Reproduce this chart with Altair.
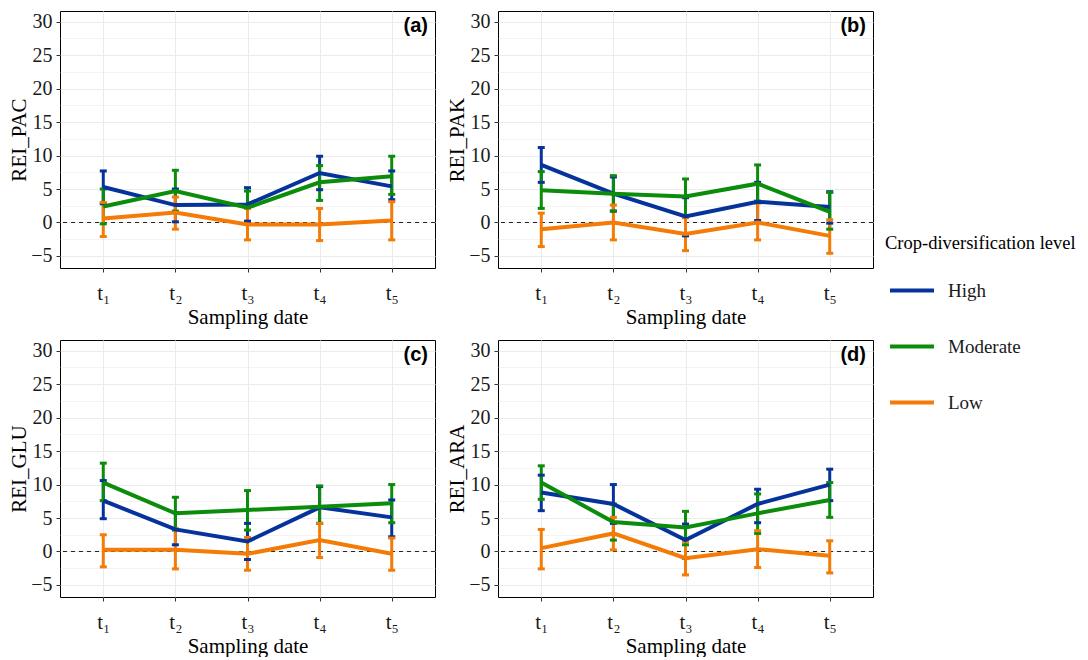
import altair as alt
import pandas as pd

dates = ["t₁", "t₂", "t₃", "t₄", "t₅"]
levels = ["High", "Moderate", "Low"]
colors = ["#06339b", "#0b8c0b", "#f37b06"]

# (a) REI_PAC
pac_high_mean = [5.3, 2.6, 2.7, 7.4, 5.4]
pac_high_lo = [2.8, 0.1, 0.2, 4.9, 3.4]
pac_high_up = [7.7, 5.0, 5.2, 9.9, 7.7]
pac_mod_mean = [2.4, 4.7, 2.2, 6.0, 6.9]
pac_mod_lo = [-0.2, 1.7, -0.3, 3.3, 4.2]
pac_mod_up = [5.0, 7.8, 4.7, 8.5, 9.9]
pac_low_mean = [0.6, 1.5, -0.3, -0.3, 0.3]
pac_low_lo = [-2.1, -1.0, -2.6, -2.7, -2.6]
pac_low_up = [3.0, 3.8, 2.1, 2.1, 3.1]

# (b) REI_PAK
pak_high_mean = [8.6, 4.3, 0.9, 3.1, 2.3]
pak_high_lo = [6.0, 1.7, -2.0, 0.3, -0.1]
pak_high_up = [11.2, 6.8, 3.7, 6.0, 4.6]
pak_mod_mean = [4.8, 4.3, 3.9, 5.8, 1.6]
pak_mod_lo = [2.1, 1.7, 1.0, 3.2, -1.0]
pak_mod_up = [7.6, 7.0, 6.5, 8.6, 4.5]
pak_low_mean = [-1.0, 0.0, -1.7, 0.0, -2.0]
pak_low_lo = [-3.6, -2.6, -4.2, -2.6, -4.6]
pak_low_up = [1.4, 2.6, 0.7, 2.9, 0.4]

# (c) REI_GLU
glu_high_mean = [7.6, 3.3, 1.5, 6.6, 5.1]
glu_high_lo = [4.9, 1.0, -1.2, 4.2, 2.2]
glu_high_up = [10.6, 5.8, 4.2, 9.7, 7.7]
glu_mod_mean = [10.3, 5.7, 6.2, 6.7, 7.2]
glu_mod_lo = [7.6, 3.2, 3.2, 4.2, 4.3]
glu_mod_up = [13.2, 8.1, 9.1, 9.8, 10.0]
glu_low_mean = [0.25, 0.25, -0.35, 1.7, -0.35]
glu_low_lo = [-2.3, -2.6, -2.8, -0.9, -2.8]
glu_low_up = [2.5, 3.4, 2.1, 4.2, 2.0]

# (d) REI_ARA
ara_high_mean = [8.8, 7.1, 1.7, 7.1, 10.0]
ara_high_lo = [6.1, 4.2, -1.0, 4.3, 7.6]
ara_high_up = [11.4, 10.0, 4.1, 9.3, 12.3]
ara_mod_mean = [10.3, 4.4, 3.6, 5.7, 7.7]
ara_mod_lo = [7.8, 1.7, 1.0, 2.7, 5.1]
ara_mod_up = [12.8, 7.1, 6.0, 8.6, 10.3]
ara_low_mean = [0.5, 2.7, -1.0, 0.35, -0.65]
ara_low_lo = [-2.6, 0.25, -3.5, -2.4, -3.2]
ara_low_up = [3.3, 5.1, 1.5, 3.1, 1.6]

y_ticks = [-5, -2.5, 0, 2.5, 5, 7.5, 10, 12.5, 15, 17.5, 20, 22.5, 25, 27.5, 30]
y_domain = [-6.8, 31.6]

W, H = 375, 257
SERIF = "Liberation Serif"


def build_df(series):
    rows = []
    for lvl, (m, lo, up) in zip(levels, series):
        for i, d in enumerate(dates):
            rows.append({"date": d, "level": lvl, "mean": m[i], "lo": lo[i], "up": up[i]})
    return pd.DataFrame(rows)


def panel(ytitle, label, series):
    df = build_df(series)
    xscale = alt.Scale(type="point", padding=0.6, domain=dates)
    xaxis = alt.Axis(title="Sampling date", labelAngle=0, labelPadding=10, tickSize=4,
                     titlePadding=3, grid=True, labelFont=SERIF, labelFontSize=21)
    yscale = alt.Scale(domain=y_domain, nice=False, zero=False)
    yaxis = alt.Axis(title=ytitle, values=y_ticks, labelFont=SERIF, labelFontSize=20,
                     labelExpr="datum.value % 5 === 0 ? datum.label : ''",
                     gridWidth={"condition": {"test": "datum.value % 5 === 0", "value": 1.1}, "value": 0.6},
                     tickOpacity={"condition": {"test": "datum.value % 5 === 0", "value": 1}, "value": 0},
                     tickSize=4, labelPadding=4, titlePadding=1)
    color = alt.Color("level:N", scale=alt.Scale(domain=levels, range=colors),
                      legend=alt.Legend(title="Crop-diversification level"))

    def X():
        return alt.X("date:N", scale=xscale, axis=xaxis, sort=dates)

    def Y(f):
        return alt.Y(f, scale=yscale, axis=yaxis)

    base = alt.Chart(df)
    zero = alt.Chart(pd.DataFrame({"z": [0]})).mark_rule(
        strokeDash=[4, 4], color="#222222", strokeWidth=1
    ).encode(y=Y("z:Q"))
    bars = base.mark_rule(strokeWidth=3, opacity=1).encode(x=X(), y=Y("lo:Q"), y2="up:Q", color=color)
    cap_lo = base.mark_tick(size=7, thickness=3, opacity=1).encode(x=X(), y=Y("lo:Q"), color=color)
    cap_up = base.mark_tick(size=7, thickness=3, opacity=1).encode(x=X(), y=Y("up:Q"), color=color)
    lines = base.mark_line(strokeWidth=4, opacity=1).encode(x=X(), y=Y("mean:Q"), color=color,
                                                            detail="level:N")
    lab = alt.Chart(pd.DataFrame({"lab": [label]})).mark_text(
        align="right", baseline="middle", font="Liberation Sans", fontWeight="bold",
        fontSize=20, color="black"
    ).encode(text="lab:N", x=alt.value(W - 7), y=alt.value(15))
    return alt.layer(zero, bars, cap_lo, cap_up, lines, lab).properties(width=W, height=H)


pa = panel("REI_PAC", "(a)", [(pac_high_mean, pac_high_lo, pac_high_up),
                               (pac_mod_mean, pac_mod_lo, pac_mod_up),
                               (pac_low_mean, pac_low_lo, pac_low_up)])
pb = panel("REI_PAK", "(b)", [(pak_high_mean, pak_high_lo, pak_high_up),
                               (pak_mod_mean, pak_mod_lo, pak_mod_up),
                               (pak_low_mean, pak_low_lo, pak_low_up)])
pc = panel("REI_GLU", "(c)", [(glu_high_mean, glu_high_lo, glu_high_up),
                               (glu_mod_mean, glu_mod_lo, glu_mod_up),
                               (glu_low_mean, glu_low_lo, glu_low_up)])
pd_ = panel("REI_ARA", "(d)", [(ara_high_mean, ara_high_lo, ara_high_up),
                                (ara_mod_mean, ara_mod_lo, ara_mod_up),
                                (ara_low_mean, ara_low_lo, ara_low_up)])

chart = alt.vconcat(
    alt.hconcat(pa, pb, spacing=10),
    alt.hconcat(pc, pd_, spacing=10),
    spacing=11,
).properties(
    padding={"left": 0, "top": 2, "right": 0, "bottom": 0}
).configure_view(
    stroke="black", strokeWidth=1
).configure_axis(
    labelFont=SERIF, titleFont=SERIF,
    labelFontSize=20, titleFontSize=21, labelColor="#1a1a1a", titleColor="black",
    titleFontWeight="normal", gridColor="#ebebeb", tickColor="#333333", domain=False
).configure_legend(
    orient="none", legendX=825, legendY=223,
    titleFont=SERIF, titleFontSize=18.5, titleFontWeight="normal", titleColor="black",
    titleLimit=400, labelLimit=200,
    labelFont=SERIF, labelFontSize=19, labelColor="#1a1a1a",
    symbolType="stroke", symbolSize=1936, symbolStrokeWidth=4, symbolOpacity=1,
    rowPadding=22, titlePadding=14, labelOffset=12, symbolOffset=3
)

chart.save("out.html", embed_options={"renderer": "svg", "actions": False})
